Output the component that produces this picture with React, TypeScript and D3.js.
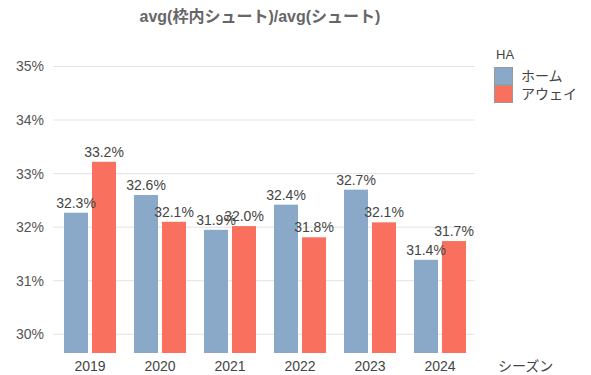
import * as d3 from 'd3';

const seasons = ['2019', '2020', '2021', '2022', '2023', '2024'];
const groups = ['ホーム', 'アウェイ'];
const homeValues = [32.27, 32.6, 31.95, 32.42, 32.7, 31.39];
const awayValues = [33.22, 32.1, 32.02, 31.81, 32.09, 31.74];
const yTicks = [30, 31, 32, 33, 34, 35];

const colors: Record<string, string> = { 'ホーム': '#8aa8c7', 'アウェイ': '#f9705f' };
const font = '"Liberation Sans", Arial, "Noto Sans CJK JP", sans-serif';

export default function App() {
  const width = 591;
  const height = 375;

  const x = d3.scaleBand<string>().domain(seasons).range([55, 475])
    .paddingInner(18 / 70).paddingOuter(9 / 70);
  const xSub = d3.scaleBand<string>().domain(groups).range([0, x.bandwidth()]).paddingInner(4 / 28);
  const y = d3.scaleLinear().domain([29.65, 35]).range([353, 66.5]);

  const bars = seasons.flatMap((s, i) => [
    { season: s, group: groups[0], value: homeValues[i] },
    { season: s, group: groups[1], value: awayValues[i] },
  ]);

  return (
    <svg width={width} height={height} style={{ position: 'absolute', left: 0, top: 0, background: '#fff' }}
      fontFamily={font}>
      <text x={260} y={22} textAnchor="middle" fontSize={16} fontWeight="bold" fill="#666">
        avg(枠内シュート)/avg(シュート)
      </text>

      {/* gridlines + y ticks */}
      {yTicks.map(t => (
        <g key={t}>
          <line x1={53} x2={475} y1={y(t)} y2={y(t)} stroke="#e3e3e3" strokeWidth={1} />
          <text x={44} y={y(t)} dy="0.35em" textAnchor="end" fontSize={14} fill="#555">{t}%</text>
        </g>
      ))}

      {/* bars */}
      {bars.map(d => (
        <rect key={d.season + d.group}
          x={(x(d.season) ?? 0) + (xSub(d.group) ?? 0)}
          y={y(d.value)}
          width={xSub.bandwidth()}
          height={y(29.65) - y(d.value)}
          fill={colors[d.group]} />
      ))}

      {/* value labels */}
      {bars.map(d => (
        <text key={'l' + d.season + d.group}
          x={(x(d.season) ?? 0) + (xSub(d.group) ?? 0) + xSub.bandwidth() / 2}
          y={y(d.value) - 5}
          textAnchor="middle" fontSize={14} fill="#444">
          {d3.format('.1f')(d.value)}%
        </text>
      ))}

      {/* x ticks */}
      {seasons.map(s => (
        <text key={s} x={(x(s) ?? 0) + x.bandwidth() / 2} y={371} textAnchor="middle" fontSize={14} fill="#444">{s}</text>
      ))}
      <text x={498} y={371} fontSize={14} fill="#444">シーズン</text>

      {/* legend */}
      <text x={496} y={59} fontSize={13} fill="#444">HA</text>
      {groups.map((g, i) => (
        <g key={g} transform={`translate(494,${67 + i * 18})`}>
          <rect x={0.5} y={0.5} width={18} height={17} fill={colors[g]} stroke="#999" strokeWidth={1} />
          <text x={27} y={9} dy="0.35em" fontSize={14} fill="#444">{g}</text>
        </g>
      ))}
    </svg>
  );
}
